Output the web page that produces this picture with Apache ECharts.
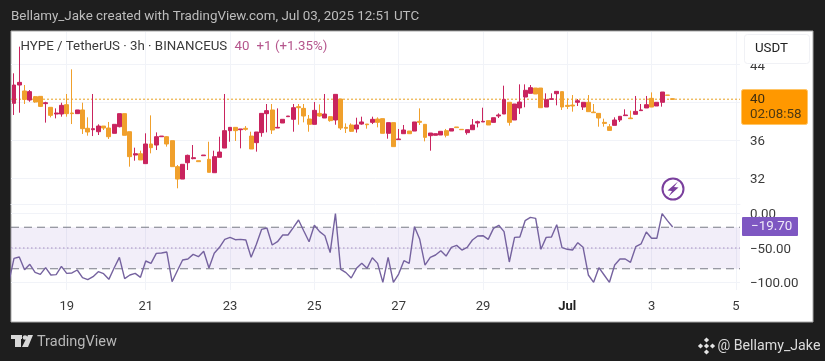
<!DOCTYPE html>
<html><head><meta charset="utf-8">
<style>html,body{margin:0;padding:0;background:#1e1e1e}#c{width:825px;height:361px}</style>
<script src="https://cdn.jsdelivr.net/npm/echarts@6/dist/echarts.min.js"></script>
</head><body><div id="c"></div>
<script>
const tickBars=[10,25,41,57,73,89,105,121,137];
const tickLabels=['19','21','23','25','27','29','Jul','3','5'];
const priceTicks=[32,36,40,44];
const wprTicks=[0,-50,-100];
const lastPrice=40.35;
const opens=[39.91,41.85,41.22,40.26,40.62,40.65,39.88,39.49,38.78,38.78,39.77,38.89,38.82,39.21,37.27,37.12,36.91,37.51,37.30,36.74,37.44,38.82,36.91,34.44,34.58,33.53,35.61,35.50,36.38,36.38,35.96,33.21,31.90,33.63,34.06,33.84,34.37,33.99,32.57,34.20,35.18,37.02,37.37,37.12,37.27,36.45,35.75,36.81,38.82,39.21,37.30,37.83,38.50,38.22,39.56,39.38,38.25,37.69,38.85,38.36,38.50,38.15,40.37,37.37,37.62,37.20,37.72,37.72,37.90,38.25,38.29,36.74,37.87,36.07,36.70,36.98,36.98,38.01,37.69,36.49,36.53,36.56,37.02,36.98,37.41,37.16,36.81,37.12,37.83,37.94,38.08,37.90,38.57,38.78,40.02,38.15,39.42,40.58,40.97,41.53,41.53,39.52,40.33,40.93,41.15,39.70,39.73,40.02,39.52,40.02,38.99,38.85,37.90,37.44,37.58,38.15,38.61,38.36,38.75,39.14,39.42,40.44,39.63,40.02,40.79,40.40];
const closes=[41.85,42.13,40.33,41.15,40.05,39.59,39.98,38.64,38.89,39.70,38.82,38.82,39.21,37.23,36.88,37.23,37.51,37.30,36.38,37.69,38.82,36.53,34.27,34.58,33.92,35.61,35.22,36.38,36.45,35.61,33.21,31.90,33.46,34.41,34.16,33.74,34.44,32.61,34.27,34.76,37.02,37.37,37.02,37.20,37.16,35.08,36.88,38.85,39.14,37.09,37.37,38.22,38.57,39.45,39.45,38.57,37.69,39.17,38.57,38.78,38.08,40.86,37.30,37.27,36.95,37.62,37.94,37.65,38.22,37.90,36.74,37.87,35.33,36.14,37.09,36.70,37.94,37.90,36.31,36.77,36.70,36.95,36.53,37.23,37.34,37.12,37.12,37.62,37.97,38.01,37.62,38.39,38.68,40.33,37.90,39.84,40.05,41.29,41.57,40.90,39.45,40.30,40.40,41.18,39.52,39.59,39.63,40.19,40.02,39.03,38.92,38.36,37.79,37.05,38.15,38.54,38.68,38.29,39.06,39.21,39.77,39.52,40.02,41.11,40.76,40.33];
const lows=[38.68,38.92,39.84,40.08,39.98,39.52,37.87,38.43,38.32,38.50,38.50,37.72,38.82,36.67,36.49,36.45,36.56,37.09,36.14,36.74,37.37,36.53,33.21,33.84,33.92,33.53,34.62,34.97,36.38,35.33,33.21,30.92,31.90,32.86,33.99,33.74,34.37,32.61,32.57,34.20,35.18,35.85,35.93,35.15,37.02,35.08,34.80,36.38,36.84,36.67,37.30,37.83,38.50,36.91,37.65,37.90,36.91,37.69,38.50,38.36,37.97,37.65,37.09,36.77,36.88,36.81,37.65,37.23,37.72,37.37,36.74,36.17,35.33,36.07,36.70,36.70,36.98,37.62,35.89,34.90,36.53,36.56,36.31,36.98,37.34,37.12,36.60,37.12,37.37,37.94,37.62,37.90,38.36,38.78,37.55,38.15,38.78,39.49,40.97,40.90,39.45,39.52,40.33,39.70,39.21,39.31,39.03,39.63,39.21,39.03,38.92,37.44,37.44,37.05,37.58,37.94,38.61,38.29,38.75,39.14,39.42,39.52,39.63,39.56,40.76,40.33];
const highs=[43.09,45.91,41.85,41.32,40.69,40.65,40.08,39.49,39.38,39.98,40.90,43.51,39.21,39.98,38.43,40.90,37.69,37.51,37.94,37.69,38.82,38.82,36.91,35.22,34.90,36.74,38.64,36.84,36.45,36.45,35.96,33.39,33.46,34.48,35.50,33.84,34.44,35.85,34.90,36.38,40.90,37.37,37.37,37.20,37.51,36.91,36.88,38.85,39.84,39.84,39.38,38.22,38.57,39.84,39.84,39.84,38.68,40.05,39.80,40.90,38.57,40.86,40.37,37.79,37.79,38.39,38.50,37.72,38.50,38.43,38.29,37.87,37.87,37.20,37.62,36.98,37.94,39.38,37.69,36.77,36.70,36.95,37.20,37.23,37.41,37.16,37.12,38.25,38.08,39.45,38.08,38.39,38.85,41.78,40.02,39.84,41.92,41.92,41.85,41.53,41.53,40.97,40.97,41.18,41.15,40.44,40.79,40.37,40.02,40.79,39.84,38.85,38.29,37.72,38.43,38.54,39.28,39.14,40.69,39.84,40.69,41.07,40.02,41.11,40.79,40.40];
const wprLead=-100;
const wpr=[-64.9,-63.0,-81.3,-73.6,-85.2,-88.1,-78.4,-89.0,-88.5,-76.5,-86.6,-86.1,-81.8,-92.9,-95.8,-91.4,-84.2,-87.1,-95.3,-78.9,-63.5,-94.3,-89.0,-86.6,-92.4,-68.8,-72.2,-57.7,-57.2,-55.8,-98.7,-82.8,-67.3,-65.9,-59.2,-62.5,-54.8,-78.9,-57.7,-49.0,-37.5,-34.6,-38.0,-37.5,-38.4,-63.5,-44.7,-23.0,-21.1,-45.7,-40.9,-31.2,-31.2,-20.6,-9.5,-25.4,-40.9,-17.2,-26.4,-32.2,-56.7,-0.2,-80.8,-85.6,-93.4,-79.4,-72.2,-79.4,-64.0,-72.2,-99.6,-63.5,-99.6,-87.6,-68.3,-72.2,-19.2,-37.5,-74.6,-63.5,-60.1,-53.9,-61.6,-49.0,-46.2,-52.9,-49.0,-38.4,-32.7,-32.2,-37.5,-21.6,-17.2,-26.4,-70.2,-34.6,-34.1,-10.5,-5.7,-7.1,-51.9,-34.6,-34.1,-16.3,-49.5,-51.9,-52.9,-42.3,-49.0,-89.0,-99.6,-78.4,-89.0,-99.6,-74.6,-65.9,-65.9,-70.7,-48.1,-44.2,-26.9,-36.0,-36.0,-0.2,-10.5,-19.7];

const UP='#c9245e',DOWN='#f0a02c',GRID='#f1f3f8',PURPLE='#7e57c2';
const X_MIN=-0.57,X_MAX=137.78;
const candleData=opens.map((o,i)=>[i,o,closes[i],lows[i],highs[i]]);
const wprData=[[-1,wprLead]].concat(wpr.map((v,i)=>[i,v]));
function levelLine(v){return [[X_MIN,v],[X_MAX,v]];}
const xBase={type:'value',min:X_MIN,max:X_MAX,axisTick:{show:false,customValues:tickBars},
  splitLine:{show:true,lineStyle:{color:GRID,width:1}}};
const yRich={a:{fontFamily:'Roboto',fontSize:13.3,color:'#3a3a3a',padding:[3,0,0,0]}};
function T(x,y,text,size,fill,extra){return Object.assign({type:'text',z:100,x:x,y:y,style:{text:text,fontFamily:'Roboto',fontSize:size,fill:fill,textVerticalAlign:'middle'}},extra||{});}
function diamond(cx,cy,r,fill){return {type:'polygon',z:100,shape:{points:[[cx,cy-r],[cx+r,cy],[cx,cy+r],[cx-r,cy]]},style:{fill:fill}};}

const chart=echarts.init(document.getElementById('c'),null,{renderer:'canvas'});
chart.setOption({
  animation:false,backgroundColor:'#1e1e1e',
  grid:[{left:11,right:85,top:32,height:172,containLabel:false},{left:11,right:85,top:204,height:86,containLabel:false}],
  xAxis:[
    Object.assign({},xBase,{gridIndex:0,axisLine:{show:true,onZero:false,lineStyle:{color:GRID}},axisLabel:{show:false}}),
    Object.assign({},xBase,{gridIndex:1,axisLine:{show:false},axisLabel:{show:true,margin:10,customValues:tickBars,hideOverlap:false,
      fontFamily:'Roboto',fontSize:13,color:'#3a3a3a',
      formatter:v=>{const s=tickLabels[tickBars.indexOf(v)]||'';return s==='Jul'?'{b|Jul}':s;},
      rich:{b:{fontFamily:'Roboto',fontSize:13,fontWeight:'bold',color:'#222'}}}})
  ],
  yAxis:[
    {type:'value',gridIndex:0,position:'right',min:29.26,max:47.46,scale:true,axisLine:{show:false},axisTick:{show:false,customValues:priceTicks},
     splitLine:{show:true,lineStyle:{color:GRID,width:1}},
     axisLabel:{customValues:priceTicks,margin:10,rich:yRich,formatter:v=>'{a|'+v+'}'}},
    {type:'value',gridIndex:1,position:'right',min:-110.7,max:13.6,axisLine:{show:false},axisTick:{show:false,customValues:wprTicks},
     splitLine:{show:true,lineStyle:{color:GRID,width:1}},
     axisLabel:{customValues:wprTicks,margin:10,rich:yRich,
       formatter:v=>'{a|'+(v<0?'\u2212':'')+Math.abs(v).toFixed(2)+'}'}}
  ],
  series:[
    {type:'line',name:'price line',xAxisIndex:0,yAxisIndex:0,data:levelLine(lastPrice),showSymbol:false,symbol:'none',silent:true,z:1,
     lineStyle:{color:'#e8a020',type:[2,2],width:1}},
    {type:'candlestick',xAxisIndex:0,yAxisIndex:0,data:candleData,encode:{x:0,y:[1,2,3,4]},barWidth:4.4,clip:true,z:3,
     itemStyle:{color:UP,color0:DOWN,borderColor:UP,borderColor0:DOWN,borderWidth:1}},
    {type:'line',name:'upper band',xAxisIndex:1,yAxisIndex:1,data:levelLine(-20),showSymbol:false,symbol:'none',silent:true,z:2,
     lineStyle:{color:'#787b86',type:[8,5],width:1}},
    {type:'line',name:'lower band',xAxisIndex:1,yAxisIndex:1,data:levelLine(-80),showSymbol:false,symbol:'none',silent:true,z:2,
     lineStyle:{color:'#787b86',type:[8,5],width:1}},
    {type:'line',name:'middle band',xAxisIndex:1,yAxisIndex:1,data:levelLine(-50),showSymbol:false,symbol:'none',silent:true,z:2,
     lineStyle:{color:'#a58cc0',type:[1.5,2.5],width:1}},
    {type:'line',xAxisIndex:1,yAxisIndex:1,data:wprData,showSymbol:false,symbol:'none',lineStyle:{color:'#75629f',width:1.4},clip:true,z:5,
     markArea:{silent:true,itemStyle:{color:'rgba(126,87,194,0.1)'},data:[[{yAxis:-20},{yAxis:-80}]]}}
  ],
  graphic:[
    {type:'rect',z:-10,shape:{x:11,y:31,width:802,height:291},style:{fill:'#fff',stroke:'#a8a8a8',lineWidth:1}},
    T(11,16.5,'Bellamy_Jake created with TradingView.com, Jul 03, 2025 12:51 UTC',13.4,'#bdbdbd'),
    T(20.5,47,'HYPE / TetherUS \u00b7 3h \u00b7 BINANCEUS',13.3,'#3a3a3a'),
    T(234.5,47,'40',13.3,'#b5558c'),T(256.5,47,'+1',13.3,'#b5558c'),T(275,47,'(+1.35%)',13.3,'#b5558c'),
    {type:'rect',z:99,shape:{x:744.5,y:34.5,width:65,height:29,r:3},style:{fill:'#fff',stroke:'#f0f1f5',lineWidth:1}},
    T(755,49,'USDT',13.3,'#222'),
    {type:'rect',z:99,shape:{x:741.5,y:89.5,width:66,height:35,r:2},style:{fill:'#ff9800',stroke:'#ffc566',lineWidth:1}},
    T(750,100,'40',13.4,'#3c2c10'),T(750,115,'02:08:58',13.4,'#4f3a12'),
    {type:'rect',z:99,shape:{x:742,y:217,width:56,height:19,r:1},style:{fill:PURPLE}},
    T(751,227,'\u221219.70',13.4,'#efeaf8'),
    {type:'circle',z:100,shape:{cx:673,cy:189,r:10.5},style:{fill:'#fff',stroke:'#7a3f9d',lineWidth:2}},
    {type:'polygon',z:101,shape:{points:[[678,181.5],[667.5,190.5],[672,191],[668.5,196.5],[678.5,187.5],[674,187]]},style:{fill:'#7a3f9d'}},
    {type:'rect',z:100,shape:{x:11,y:335,width:11,height:4},style:{fill:'#d8d8d8'}},
    {type:'rect',z:100,shape:{x:15,y:335,width:6,height:12},style:{fill:'#d8d8d8'}},
    {type:'circle',z:100,shape:{cx:25,cy:337.5,r:2.3},style:{fill:'#d8d8d8'}},
    {type:'polygon',z:100,shape:{points:[[28,335],[33,335],[28,347],[22,347]]},style:{fill:'#d8d8d8'}},
    T(37,342.5,'TradingView',14.5,'#b8b8b8'),
    diamond(706.5,340,2.6,'#e4e4e4'),diamond(706.5,352,2.6,'#e4e4e4'),diamond(700.5,346,2.6,'#e4e4e4'),diamond(712.5,346,2.6,'#e4e4e4'),diamond(706.5,346,2.6,'#e4e4e4'),
    T(717.5,346.5,'@ Bellamy_Jake',14.2,'#dcdcdc')
  ]
});
</script></body></html>
